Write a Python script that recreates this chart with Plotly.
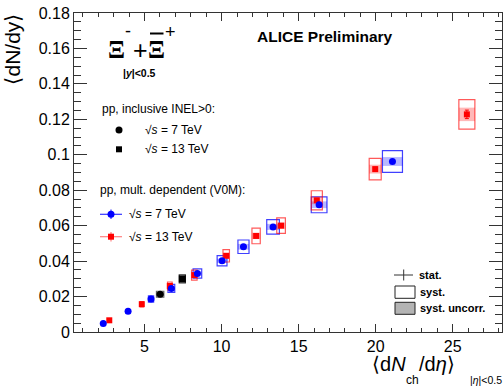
import plotly.graph_objects as go

# ---------------- data ----------------
blue_x = [2.32, 3.93, 5.42, 6.74, 8.43, 10.03, 11.42, 13.34, 16.33, 21.09]
blue_y = [0.0048, 0.0117, 0.0186, 0.0246, 0.0330, 0.0402, 0.0481, 0.0593, 0.0718, 0.0962]
blue_stat = [0.0002, 0.0003, 0.0003, 0.0004, 0.0004, 0.0005, 0.0005, 0.0006, 0.0007, 0.0009]
blue_syst = [0.0005, 0.0010, 0.0018, 0.0023, 0.0026, 0.0029, 0.0038, 0.0041, 0.0045, 0.0061]
blue_uncorr = [0.0002, 0.0004, 0.0008, 0.0010, 0.0011, 0.0012, 0.0016, 0.0017, 0.0019, 0.0025]
blue_xerr = [0.07, 0.12, 0.17, 0.22, 0.28, 0.32, 0.36, 0.41, 0.51, 0.65]

red_x = [2.71, 4.82, 6.64, 8.23, 10.30, 12.24, 13.86, 16.18, 19.97, 25.92]
red_y = [0.0066, 0.0157, 0.0260, 0.0321, 0.0430, 0.0542, 0.0600, 0.0743, 0.0919, 0.1228]
red_stat = [0.0002, 0.0003, 0.0004, 0.0005, 0.0006, 0.0007, 0.0008, 0.0009, 0.0011, 0.0024]
red_syst = [0.0006, 0.0015, 0.0022, 0.0028, 0.0035, 0.0044, 0.0044, 0.0054, 0.0061, 0.0083]
red_uncorr = [0.0003, 0.0006, 0.0009, 0.0011, 0.0014, 0.0018, 0.0018, 0.0022, 0.0025, 0.0038]
red_xerr = [0.06, 0.10, 0.15, 0.18, 0.21, 0.27, 0.28, 0.36, 0.39, 0.52]

incl7_x = [6.01]
incl7_y = [0.0213]
incl7_syst = [0.0017]
incl7_uncorr = [0.0010]
incl7_xerr = [0.24]
incl13_x = [7.45]
incl13_y = [0.0300]
incl13_syst = [0.0023]
incl13_uncorr = [0.0015]
incl13_xerr = [0.20]

y_ticks = [0, 0.02, 0.04, 0.06, 0.08, 0.1, 0.12, 0.14, 0.16, 0.18]
y_ticklabels = ["0", "0.02", "0.04", "0.06", "0.08", "0.1", "0.12", "0.14", "0.16", "0.18"]
x_ticks = [5, 10, 15, 20, 25]
x_ticklabels = ["5", "10", "15", "20", "25"]

FONT = "Liberation Sans, Arial, Helvetica, sans-serif"
SERIF = "Liberation Serif, DejaVu Serif, serif"
W, H = 504, 386
L, R, T, B = 74, 2, 13, 54
PW, PH = W - L - R, H - T - B


def px(x):
    return (x - L) / PW


def py(y):
    return (H - B - y) / PH


fig = go.Figure()
shapes = []


def add_boxes(xs, ys, xe, syst, unc, line_col, fill_col):
    for x, y, dx, s, u in zip(xs, ys, xe, syst, unc):
        shapes.append(dict(type="rect", xref="x", yref="y", x0=x - dx, x1=x + dx,
                           y0=y - u, y1=y + u, fillcolor=fill_col,
                           line=dict(width=0), layer="below"))
        shapes.append(dict(type="rect", xref="x", yref="y", x0=x - dx, x1=x + dx,
                           y0=y - s, y1=y + s, fillcolor="rgba(0,0,0,0)",
                           line=dict(color=line_col, width=1.2), layer="below"))


add_boxes(blue_x, blue_y, blue_xerr, blue_syst, blue_uncorr,
          "rgba(0,0,255,0.75)", "rgba(0,0,255,0.28)")
add_boxes(red_x, red_y, red_xerr, red_syst, red_uncorr,
          "rgba(255,0,0,0.65)", "rgba(255,0,0,0.28)")
add_boxes(incl7_x, incl7_y, incl7_xerr, incl7_syst, incl7_uncorr,
          "rgba(0,0,0,0.6)", "rgba(0,0,0,0.35)")
add_boxes(incl13_x, incl13_y, incl13_xerr, incl13_syst, incl13_uncorr,
          "rgba(0,0,0,0.8)", "rgba(0,0,0,0.6)")

fig.add_trace(go.Scatter(x=red_x, y=red_y, mode="markers",
                         error_y=dict(type="data", array=red_stat, color="#ff0000",
                                      thickness=1, width=2),
                         marker=dict(symbol="square", size=6, color="#ff0000"),
                         showlegend=False))
fig.add_trace(go.Scatter(x=blue_x, y=blue_y, mode="markers",
                         error_y=dict(type="data", array=blue_stat, color="#0000ff",
                                      thickness=1, width=2),
                         marker=dict(symbol="circle", size=7, color="#0000ff"),
                         showlegend=False))
fig.add_trace(go.Scatter(x=incl7_x, y=incl7_y, mode="markers",
                         marker=dict(symbol="circle", size=7, color="black"),
                         showlegend=False))
fig.add_trace(go.Scatter(x=incl13_x, y=incl13_y, mode="markers",
                         marker=dict(symbol="square", size=7, color="black"),
                         showlegend=False))

# ---------------- legend symbols (paper coordinates) ----------------
def pcircle(cx, cy, r, col):
    shapes.append(dict(type="circle", xref="paper", yref="paper",
                       x0=px(cx - r), x1=px(cx + r), y0=py(cy + r), y1=py(cy - r),
                       fillcolor=col, line=dict(width=0)))


def prect(x0, y0, x1, y1, fill, line_col=None, lw=0):
    shapes.append(dict(type="rect", xref="paper", yref="paper",
                       x0=px(x0), x1=px(x1), y0=py(y1), y1=py(y0), fillcolor=fill,
                       line=dict(width=lw, color=line_col or "rgba(0,0,0,0)")))


def pline(x0, y0, x1, y1, col, lw=1):
    shapes.append(dict(type="line", xref="paper", yref="paper",
                       x0=px(x0), x1=px(x1), y0=py(y0), y1=py(y1),
                       line=dict(color=col, width=lw)))


pcircle(119, 130, 3.5, "black")
prect(116, 146.3, 122, 152.3, "black")

pline(100, 214.3, 122, 214.3, "rgba(0,0,255,0.8)", 1.2)
pline(111, 209.5, 111, 219, "rgba(0,0,255,0.8)", 1.2)
pcircle(111, 214.3, 3.5, "#0000ff")
pline(100, 236.7, 122, 236.7, "rgba(255,0,0,0.5)", 1.2)
pline(111, 232, 111, 241.5, "rgba(255,0,0,0.5)", 1.2)
prect(108, 233.7, 114, 239.7, "#ff0000")

pline(394, 275, 413, 275, "#333", 1)
pline(403.7, 269.5, 403.7, 280.5, "#333", 1)
prect(395, 286, 415, 298.3, "white", "#222", 1)
prect(395, 302.3, 415, 314.3, "#b4b4b4", "#222", 1)

# Xi title overline
pline(150, 33.5, 163.5, 33.5, "black", 2)

# ---------------- text ----------------
ann = []


def text(t, x, y, size, xanchor="left", yanchor="middle", bold=False, color="black",
         angle=0, family=FONT):
    ann.append(dict(text=t, x=px(x), y=py(y), xref="paper", yref="paper",
                    xanchor=xanchor, yanchor=yanchor, showarrow=False,
                    textangle=angle,
                    font=dict(family=family, size=size, color=color,
                              weight="bold" if bold else "normal")))


# title particle
text("Ξ", 116.7, 49.5, 25, xanchor="center", family=SERIF, bold=True)
text("-", 128, 31, 18, xanchor="center")
text("+", 140, 50, 25, xanchor="center")
text("Ξ", 156.7, 49.5, 25, xanchor="center", family=SERIF, bold=True)
text("+", 170, 31.5, 18, xanchor="center")
text("|<i>y</i>|&lt;0.5", 139, 72.5, 10.5, xanchor="center", bold=True)

text("ALICE Preliminary", 325, 37, 15.5, xanchor="center", bold=True)

text("pp, inclusive INEL&gt;0:", 100, 109, 12)
text("√<i>s</i> = 7 TeV", 143, 130, 12)
text("√<i>s</i> = 13 TeV", 143, 149.3, 12)
text("pp, mult. dependent (V0M):", 98, 190, 12)
text("√<i>s</i> = 7 TeV", 127, 214.3, 12)
text("√<i>s</i> = 13 TeV", 127, 236.7, 12)

text("stat.", 417, 275, 11, bold=True)
text("syst.", 418, 292, 11, bold=True)
text("syst. uncorr.", 418, 308.3, 11, bold=True)

# axis titles
text("⟨dN/dy⟩", 12, 12, 21, xanchor="center", yanchor="top", angle=-90)
text("⟨d<i>N</i>", 370, 364, 20)
text("ch", 404, 380, 12)
text("/d<i>η</i>⟩", 417, 364, 20)
text("|<i>η</i>|&lt;0.5", 468, 380, 10.5)

text("ALI-PREL-133295", 2, 382, 8, yanchor="top", color="#c8c8c8")

axis_common = dict(showline=True, linecolor="#333", linewidth=1, mirror="ticks",
                   ticks="inside", tickcolor="#333", tickwidth=1, showgrid=False,
                   zeroline=False, tickfont=dict(family=FONT, size=16, color="black"))

fig.update_layout(
    width=W, height=H,
    margin=dict(l=L, r=R, t=T, b=B, pad=0),
    paper_bgcolor="white", plot_bgcolor="white",
    xaxis=dict(range=[0.42, 28.2], tickvals=x_ticks, ticktext=x_ticklabels,
               ticklen=8,
               minor=dict(dtick=1, tick0=0, ticklen=4, ticks="inside",
                          tickcolor="#333", showgrid=False),
               **axis_common),
    yaxis=dict(range=[0, 0.18], tickvals=y_ticks, ticktext=y_ticklabels,
               ticklen=13,
               minor=dict(dtick=0.005, tick0=0, ticklen=7, ticks="inside",
                          tickcolor="#333", showgrid=False),
               **axis_common),
    shapes=shapes,
    annotations=ann,
    showlegend=False,
)

fig.write_html("out.html")
